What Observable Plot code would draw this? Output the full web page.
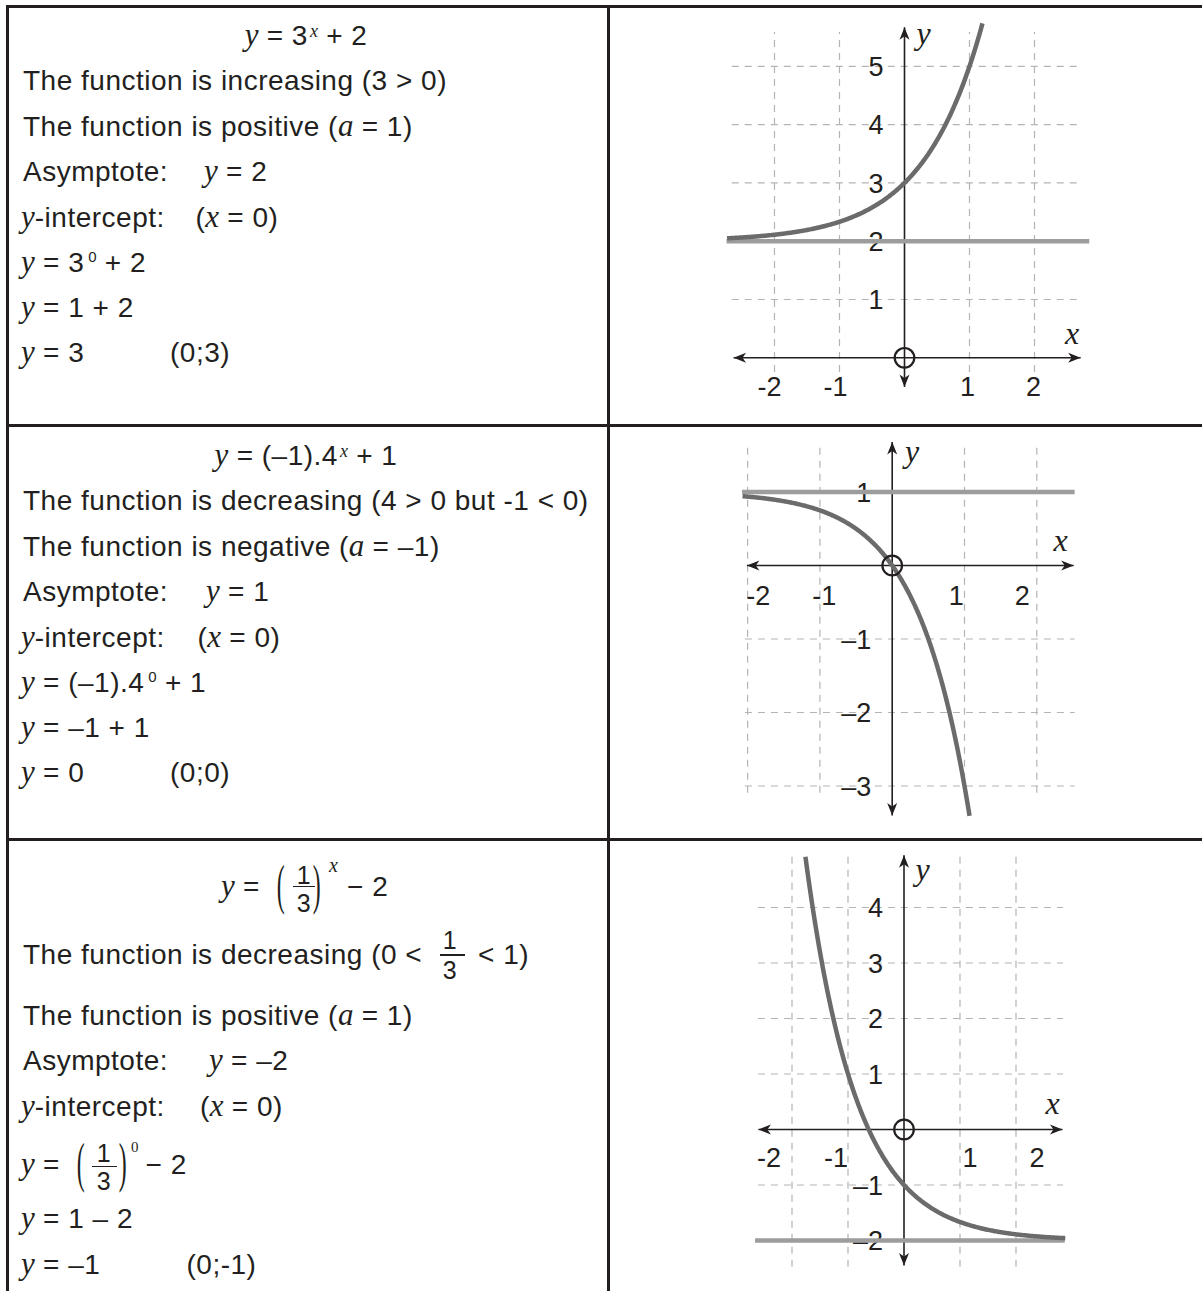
<!DOCTYPE html>
<html>
<head>
<meta charset="utf-8">
<script src="https://cdn.jsdelivr.net/npm/d3@7"></script>
<script src="https://cdn.jsdelivr.net/npm/@observablehq/plot@0.6"></script>
<style>
  body { margin: 0; background: #fff; }
  #page { position: relative; width: 1202px; height: 1291px; overflow: hidden; background: #fff; }
  .rule { position: absolute; background: #231f20; }
  .t { position: absolute; white-space: nowrap; font-family: "Liberation Sans", Arial, sans-serif;
       font-size: 28px; line-height: 40px; letter-spacing: .5px; color: #231f20; }
  .t i { font-family: "Liberation Serif", "Times New Roman", serif; font-style: italic;
         font-size: 31px; line-height: 0; letter-spacing: 0; }
  .t .sx { font-family: "Liberation Serif", "Times New Roman", serif; font-style: italic;
           font-size: 18px; position: relative; top: -8px; line-height: 0; letter-spacing: 0; margin-left: 2px; }
  .t .s0 { font-size: 15px; position: relative; top: -9.5px; line-height: 0; letter-spacing: 0; margin-left: 4px; }
  .chart { position: absolute; left: 610px; }
</style>
</head>
<body>
<div id="page"></div>
<script>
const INK = "#231f20";
const SANS = '"Liberation Sans", Arial, sans-serif';
const SERIF = '"Liberation Serif", "Times New Roman", serif';

// y = a · b^x + k for the three rows
const bases = [3, 4, 1 / 3];
const coefs = [1, -1, 1];
const shifts = [2, 1, -2];
// x-extent of each drawn curve and of each asymptote line
const curveSpans = [[-2.73, 1.2], [-2.07, 1.07], [-1.76, 2.88]];
const asymptoteSpans = [[-2.73, 2.85], [-2.07, 2.53], [-2.65, 2.88]];
// tick values
const xTicks = [-2, -1, 1, 2];
const yTicks = [[1, 2, 3, 4, 5], [1, -1, -2, -3], [4, 3, 2, 1, -1, -2]];

// frame of each graph on the page: origin pixel, pixels per unit, axis/grid extents
const views = [
  {top: 8, height: 416, x0: 904, ux: 65, y0: 357.3, uy: 58.3,
   xAxis: [-2.63, 2.71], yAxis: [-0.5, 5.67], gridX: [-2.65, 2.71], gridY: [-0.25, 5.58],
   labelStep: 66, labelShift: -3, labelDy: 30, yTitle: [19, 16.3], xTitle: [-8.5, -14.3]},
  {top: 427, height: 411, x0: 891.7, ux: 72.3, y0: 565, uy: 73.5,
   xAxis: [-2.01, 2.51], yAxis: [-3.4, 1.68], gridX: [-2.03, 2.53], gridY: [-3.1, 1.61],
   labelStep: 66, labelShift: -2, labelDy: 31, yTitle: [20, 19.7], xTitle: [-13, -15]},
  {top: 841, height: 450, x0: 903.5, ux: 56, y0: 1129, uy: 55.5,
   xAxis: [-2.6, 2.83], yAxis: [-2.45, 4.94], gridX: [-2.6, 2.85], gridY: [-2.48, 4.94],
   labelStep: 67, labelShift: -1, labelDy: 29, yTitle: [18.5, 24.7], xTitle: [-10, -16]}
];

const page = document.getElementById("page");

function curvePoints(i) {
  const [lo, hi] = curveSpans[i];
  return d3.range(241).map(j => {
    const x = lo + (hi - lo) * j / 240;
    return {x, y: coefs[i] * Math.pow(bases[i], x) + shifts[i]};
  });
}

const fmtX = d => (d < 0 ? "-" + Math.abs(d) : String(d));
const fmtY = d => (d < 0 ? "\u2013" + Math.abs(d) : String(d));

function drawChart(i) {
  const v = views[i];
  const L = 610;
  const gridStyle = {stroke: "#b4b4b4", strokeWidth: 1.2, strokeDasharray: "7,6"};
  const svg = Plot.plot({
    width: 592,
    height: v.height,
    x: {type: "linear", domain: [-1, 1], range: [v.x0 - v.ux - L, v.x0 + v.ux - L], axis: null},
    y: {type: "linear", domain: [-1, 1], range: [v.y0 + v.uy - v.top, v.y0 - v.uy - v.top], axis: null},
    style: {background: "transparent", overflow: "visible"},
    marks: [
      Plot.ruleX(xTicks, {x: d => d, y1: v.gridY[0], y2: v.gridY[1], ...gridStyle}),
      Plot.ruleY(yTicks[i], {y: d => d, x1: v.gridX[0], x2: v.gridX[1], ...gridStyle}),
      ...xTicks.map(t => Plot.text([t], {
        x: d => d, y: 0, text: fmtX,
        dx: t * (v.labelStep - v.ux) + v.labelShift, dy: v.labelDy,
        fontSize: 27, fontFamily: SANS, fill: INK
      })),
      Plot.text(yTicks[i], {x: 0, y: d => d, text: fmtY, textAnchor: "end", dx: -21, dy: 1,
        fontSize: 27, fontFamily: SANS, fill: INK}),
      Plot.link([0], {x1: v.xAxis[0], x2: v.xAxis[1], y1: 0, y2: 0, stroke: INK, strokeWidth: 1.6}),
      Plot.link([0], {x1: 0, x2: 0, y1: v.yAxis[0], y2: v.yAxis[1], stroke: INK, strokeWidth: 1.6}),
      Plot.ruleY([shifts[i]], {y: d => d, x1: asymptoteSpans[i][0], x2: asymptoteSpans[i][1],
        stroke: "#9d9d9d", strokeWidth: 4.5}),
      Plot.line(curvePoints(i), {x: "x", y: "y", stroke: "#6b6b6b", strokeWidth: 4.5,
        strokeLinecap: "butt", curve: "linear"}),
      Plot.dot([{x: 0, y: 0}], {x: "x", y: "y", r: 9.8, stroke: INK, strokeWidth: 2.2, fill: "none"}),
      Plot.text(["y"], {x: 0, y: v.yAxis[1], text: d => d, dx: v.yTitle[0], dy: v.yTitle[1],
        lineAnchor: "bottom", fontFamily: SERIF, fontStyle: "italic", fontSize: 32, fill: INK}),
      Plot.text(["x"], {x: v.xAxis[1], y: 0, text: d => d, dx: v.xTitle[0], dy: v.xTitle[1],
        lineAnchor: "bottom", fontFamily: SERIF, fontStyle: "italic", fontSize: 32, fill: INK})
    ]
  });

  // filled arrowheads on both ends of each axis line
  const ns = "http://www.w3.org/2000/svg";
  const defs = document.createElementNS(ns, "defs");
  const marker = document.createElementNS(ns, "marker");
  const id = "axis-head-" + i;
  marker.setAttribute("id", id);
  marker.setAttribute("viewBox", "-14 -6 15 12");
  marker.setAttribute("refX", "0");
  marker.setAttribute("refY", "0");
  marker.setAttribute("markerWidth", "15");
  marker.setAttribute("markerHeight", "12");
  marker.setAttribute("markerUnits", "userSpaceOnUse");
  marker.setAttribute("orient", "auto-start-reverse");
  const head = document.createElementNS(ns, "path");
  head.setAttribute("d", "M0,0L-12.5,-5L-9,0L-12.5,5Z");
  head.setAttribute("fill", INK);
  marker.appendChild(head);
  defs.appendChild(marker);
  svg.insertBefore(defs, svg.firstChild);
  svg.querySelectorAll('g[aria-label="link"] path').forEach(p => {
    p.setAttribute("marker-start", `url(#${id})`);
    p.setAttribute("marker-end", `url(#${id})`);
  });

  svg.classList.add("chart");
  svg.style.top = v.top + "px";
  page.appendChild(svg);
}

[0, 1, 2].forEach(drawChart);

// ---- left column text ----
function topFor(baseline, fs, serif) {
  const asc = serif ? 0.891 : 0.905, desc = serif ? 0.216 : 0.212;
  return baseline - ((40 - (asc + desc) * fs) / 2 + asc * fs);
}
function seg(x, baseline, html, opt = {}) {
  const d = document.createElement("div");
  d.className = "t";
  const fs = opt.size || 28;
  d.style.fontSize = fs + "px";
  if (opt.serif) { d.style.fontFamily = SERIF; d.style.letterSpacing = "0"; }
  if (opt.italic) d.style.fontStyle = "italic";
  d.style.top = topFor(baseline, fs, opt.serif) + "px";
  if (opt.center != null) {
    d.style.left = (opt.center - 200) + "px";
    d.style.width = "400px";
    d.style.textAlign = "center";
  } else {
    d.style.left = x + "px";
  }
  if (opt.transform) { d.style.transform = opt.transform; d.style.transformOrigin = opt.origin; }
  d.innerHTML = html;
  page.appendChild(d);
  return d;
}
function paren(x, baseline, ch) {
  // tall thin bracket around a fraction
  seg(x, baseline, ch, {serif: true, size: 28, transform: "scale(0.85, 1.95)", origin: "50% 22.75px"});
}
function frac(cx, numBase, barY, denBase, barX0, barX1) {
  seg(0, numBase, "1", {size: 25, center: cx});
  seg(0, denBase, "3", {size: 25, center: cx});
  const b = document.createElement("div");
  b.className = "rule";
  b.style.left = barX0 + "px";
  b.style.width = (barX1 - barX0) + "px";
  b.style.top = (barY - 0.8) + "px";
  b.style.height = "1.6px";
  page.appendChild(b);
}

// rows 1 and 2 share the same line layout
const rowOffsets = [0, 420];
const rowBase = [45.5, 91, 136.5, 182, 227.5, 272.5, 318, 363];

{ const o = rowOffsets[0];
  seg(0, rowBase[0] + o, '<i>y</i> = 3<span class="sx">x</span> + 2', {center: 306});
  seg(23, rowBase[1] + o, 'The function is increasing (3 &gt; 0)');
  seg(23, rowBase[2] + o, 'The function is positive (<i>a</i> = 1)');
  seg(23, rowBase[3] + o, 'Asymptote:');
  seg(204, rowBase[3] + o, '<i>y</i> = 2');
  seg(21, rowBase[4] + o, '<i>y</i>-intercept:');
  seg(195.5, rowBase[4] + o, '(<i>x</i> = 0)');
  seg(21, rowBase[5] + o, '<i>y</i> = 3<span class="s0">0</span> + 2');
  seg(21, rowBase[6] + o, '<i>y</i> = 1 + 2');
  seg(21, rowBase[7] + o, '<i>y</i> = 3');
  seg(170, rowBase[7] + o, '(0;3)');
}
{ const o = rowOffsets[1];
  seg(0, rowBase[0] + o, '<i>y</i> = (\u20131).4<span class="sx">x</span> + 1', {center: 306});
  seg(23, rowBase[1] + o, 'The function is decreasing (4 &gt; 0 but -1 &lt; 0)');
  seg(23, rowBase[2] + o, 'The function is negative (<i>a</i> = \u20131)');
  seg(23, rowBase[3] + o, 'Asymptote:');
  seg(206, rowBase[3] + o, '<i>y</i> = 1');
  seg(21, rowBase[4] + o, '<i>y</i>-intercept:');
  seg(197.5, rowBase[4] + o, '(<i>x</i> = 0)');
  seg(21, rowBase[5] + o, '<i>y</i> = (\u20131).4<span class="s0">0</span> + 1');
  seg(21, rowBase[6] + o, '<i>y</i> = \u20131 + 1');
  seg(21, rowBase[7] + o, '<i>y</i> = 0');
  seg(170, rowBase[7] + o, '(0;0)');
}
// row 3, with fractions
seg(221, 897, '<i>y</i> =');
paren(275.5, 897, "(");
frac(304, 883.3, 886.7, 911.7, 293.3, 315);
paren(311.5, 897, ")");
seg(329, 871.7, "x", {serif: true, italic: true, size: 20});
seg(347, 897, "\u2212 2");

seg(23, 965, 'The function is decreasing (0 &lt;');
frac(450, 948.3, 955, 978.3, 440, 465);
seg(478, 965, '&lt; 1)');
seg(23, 1025.5, 'The function is positive (<i>a</i> = 1)');
seg(23, 1071, 'Asymptote:');
seg(209, 1071, '<i>y</i> = \u20132');
seg(21, 1117, '<i>y</i>-intercept:');
seg(200, 1117, '(<i>x</i> = 0)');

seg(21, 1175, '<i>y</i> =');
paren(75.5, 1175, "(");
frac(104, 1161.7, 1166.7, 1190, 91.7, 116.7);
paren(117.5, 1175, ")");
seg(131, 1151.7, "0", {serif: true, size: 15});
seg(145.5, 1175, "\u2212 2");
seg(21, 1229, '<i>y</i> = 1 \u2013 2');
seg(21, 1275, '<i>y</i> = \u20131');
seg(186.5, 1275, '(0;-1)');

// ---- table rules ----
function rule(left, top, width, height) {
  const r = document.createElement("div");
  r.className = "rule";
  Object.assign(r.style, {left: left + "px", top: top + "px", width: width + "px", height: height + "px"});
  page.appendChild(r);
}
rule(6, 5, 1196, 3);
rule(6, 5, 2.5, 1286);
rule(607, 5, 2.6, 1286);
rule(6, 424, 1196, 2.6);
rule(6, 838, 1196, 2.6);
</script>
</body>
</html>
